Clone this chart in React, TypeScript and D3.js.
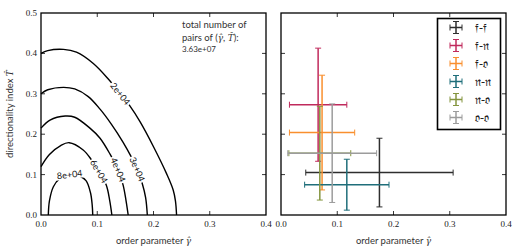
import React from "react";
import * as d3 from "d3";

// axes
const xTicks = [0, 0.1, 0.2, 0.3, 0.4];
const yTicks = [0, 0.1, 0.2, 0.3, 0.4, 0.5];

// contour lines, [gamma, T]
const levels = ["2e+04", "3e+04", "4e+04", "6e+04", "8e+04"];
const contour2e4: [number, number][] = [
  [0, 0.4], [0.012, 0.407], [0.04, 0.41], [0.063, 0.403], [0.093, 0.375], [0.12, 0.336],
  [0.14, 0.302], [0.158, 0.27], [0.176, 0.231], [0.2, 0.169], [0.223, 0.103],
  [0.235, 0.062], [0.239, 0.035], [0.241, 0],
];
const contour3e4: [number, number][] = [
  [0, 0.3], [0.012, 0.31], [0.04, 0.316], [0.06, 0.312], [0.084, 0.293], [0.105, 0.262],
  [0.125, 0.225], [0.146, 0.18], [0.16, 0.145], [0.171, 0.113], [0.18, 0.078],
  [0.186, 0.043], [0.189, 0],
];
const contour4e4: [number, number][] = [
  [0, 0.215], [0.016, 0.235], [0.043, 0.245], [0.06, 0.242], [0.087, 0.215],
  [0.105, 0.19], [0.123, 0.15], [0.137, 0.112], [0.146, 0.074], [0.151, 0.037], [0.155, 0],
];
const contour6e4: [number, number][] = [
  [0, 0.12], [0.015, 0.15], [0.035, 0.172], [0.05, 0.179], [0.075, 0.161],
  [0.09, 0.136], [0.103, 0.108], [0.116, 0.074], [0.122, 0.037], [0.126, 0],
];
const contour8e4: [number, number][] = [
  [0.013, 0], [0.015, 0.035], [0.022, 0.07], [0.033, 0.09], [0.05, 0.1], [0.068, 0.096],
  [0.08, 0.085], [0.088, 0.055], [0.091, 0.025], [0.092, 0],
];
const contours = [contour2e4, contour3e4, contour4e4, contour6e4, contour8e4];
const labelAt: [number, number][] = [
  [0.141, 0.3], [0.171, 0.113], [0.137, 0.112], [0.103, 0.108], [0.051, 0.1],
];
const totalPairs = "3.63e+07";

// error bars on the right panel
const groups = ["𝔣-𝔣", "𝔣-𝔫", "𝔣-𝔬", "𝔫-𝔫", "𝔫-𝔬", "𝔬-𝔬"];
const gammaMean = [0.175, 0.066, 0.073, 0.117, 0.069, 0.091];
const gammaErr = [0.131, 0.051, 0.058, 0.075, 0.055, 0.079];
const tMean = [0.105, 0.273, 0.204, 0.075, 0.153, 0.153];
const tErr = [0.085, 0.14, 0.142, 0.063, 0.116, 0.122];
const colors = ["#2e2e2e", "#c02a5c", "#f98f2e", "#1f6e7a", "#84953f", "#9c9c9c"];

const W = 520;
const H = 252;
const serif = "'Liberation Serif', 'Times New Roman', serif";
const sans = "Lato, 'Open Sans', sans-serif";
const math = "'DejaVu Serif', serif";

function Frame({ x, y, showY }: { x: d3.ScaleLinear<number, number>; y: d3.ScaleLinear<number, number>; showY: boolean }) {
  const [x0, x1] = x.range();
  const [y0, y1] = y.range();
  const tl = 4;
  return (
    <g>
      {xTicks.slice(1, -1).map((t) => (
        <g key={"xt" + t} stroke="#000" strokeWidth={0.8}>
          <line x1={x(t)} x2={x(t)} y1={y0} y2={y0 - tl} />
          <line x1={x(t)} x2={x(t)} y1={y1} y2={y1 + tl} />
        </g>
      ))}
      {yTicks.slice(1, -1).map((t) => (
        <g key={"yt" + t} stroke="#000" strokeWidth={0.8}>
          <line x1={x0} x2={x0 + tl} y1={y(t)} y2={y(t)} />
          <line x1={x1} x2={x1 - tl} y1={y(t)} y2={y(t)} />
        </g>
      ))}
      <rect x={x0} y={y1} width={x1 - x0} height={y0 - y1} fill="none" stroke="#000" strokeWidth={1.3} />
      {xTicks.map((t) => (
        <text key={"xl" + t} x={x(t)} y={y0 + 12} textAnchor="middle" fontFamily={serif} fontSize={9} fill="#222">
          {d3.format(".1f")(t)}
        </text>
      ))}
      {showY &&
        yTicks.map((t) => (
          <text key={"yl" + t} x={x0 - 4} y={y(t) + 3} textAnchor="end" fontFamily={serif} fontSize={9} fill="#222">
            {d3.format(".1f")(t)}
          </text>
        ))}
      <text x={(x0 + x1) / 2} y={244} textAnchor="middle" fontFamily={sans} fontSize={9.5} fill="#333">
        order parameter <tspan fontFamily={math} fontStyle="italic" fontSize={9}>γ̂</tspan>
      </text>
    </g>
  );
}

function labelAngle(pts: [number, number][], at: [number, number]) {
  let best = 0;
  let bd = Infinity;
  pts.forEach((p, i) => {
    const d = (p[0] - at[0]) ** 2 + ((p[1] - at[1]) * 0.8) ** 2;
    if (d < bd) {
      bd = d;
      best = i;
    }
  });
  const a = pts[Math.max(0, best - 1)];
  const b = pts[Math.min(pts.length - 1, best + 1)];
  return [a, b];
}

export default function App() {
  const xL = d3.scaleLinear().domain([0, 0.4]).range([41, 266]);
  const xR = d3.scaleLinear().domain([0, 0.4]).range([281, 506]);
  const y = d3.scaleLinear().domain([0, 0.5]).range([215, 13]);

  const line = d3
    .line<[number, number]>()
    .x((d) => xL(d[0]))
    .y((d) => y(d[1]))
    .curve(d3.curveCatmullRom.alpha(0.5));

  const cap = 3;

  return (
    <svg width={W} height={H} style={{ position: "absolute", left: 0, top: 0, background: "#fff" }}>
      <rect width={W} height={H} fill="#fff" />

      {/* left panel: contours */}
      <g fill="none" stroke="#000" strokeWidth={1.4}>
        {contours.map((c, i) => (
          <path key={levels[i]} d={line(c) || ""} />
        ))}
      </g>
      {levels.map((lv, i) => {
        const [a, b] = labelAngle(contours[i], labelAt[i]);
        let ang = (Math.atan2(y(b[1]) - y(a[1]), xL(b[0]) - xL(a[0])) * 180) / Math.PI;
        if (ang > 90) ang -= 180;
        if (ang < -90) ang += 180;
        const cx = xL(labelAt[i][0]);
        const cy = y(labelAt[i][1]);
        return (
          <g key={"lab" + lv} transform={`translate(${cx},${cy}) rotate(${ang})`}>
            <rect x={-14} y={-4.5} width={28} height={9} fill="#fff" />
            <text x={0} y={3.2} textAnchor="middle" fontFamily={sans} fontSize={9} fill="#111">
              {lv}
            </text>
          </g>
        );
      })}
      <g fontFamily={sans} fontSize={9.5} fill="#333">
        <text x={182} y={28}>total number of</text>
        <text x={182} y={40.5}>
          pairs of (<tspan fontFamily={math} fontStyle="italic" fontSize={9}>γ̂</tspan>,{" "}
          <tspan fontFamily={math} fontStyle="italic" fontSize={9}>T̂</tspan>):
        </text>
        <text x={182} y={52} fontSize={8}>{totalPairs}</text>
      </g>
      <Frame x={xL} y={y} showY={true} />
      <text
        transform={`translate(13,${y(0.25)}) rotate(-90)`}
        textAnchor="middle"
        fontFamily={sans}
        fontSize={9.5}
        fill="#333"
      >
        directionality index <tspan fontFamily={math} fontStyle="italic" fontSize={9}>T̂</tspan>
      </text>

      {/* right panel: error bars */}
      {groups.map((g, i) => {
        const cx = xR(gammaMean[i]);
        const cy = y(tMean[i]);
        const xa = xR(gammaMean[i] - gammaErr[i]);
        const xb = xR(gammaMean[i] + gammaErr[i]);
        const ya = y(tMean[i] - tErr[i]);
        const yb = y(tMean[i] + tErr[i]);
        return (
          <g key={g} stroke={colors[i]}>
            <line x1={xa} x2={xb} y1={cy} y2={cy} strokeWidth={1.5} />
            <line x1={cx} x2={cx} y1={ya} y2={yb} strokeWidth={1.5} />
            <line x1={xa} x2={xa} y1={cy - cap} y2={cy + cap} strokeWidth={1} />
            <line x1={xb} x2={xb} y1={cy - cap} y2={cy + cap} strokeWidth={1} />
            <line x1={cx - cap} x2={cx + cap} y1={ya} y2={ya} strokeWidth={1} />
            <line x1={cx - cap} x2={cx + cap} y1={yb} y2={yb} strokeWidth={1} />
          </g>
        );
      })}
      <Frame x={xR} y={y} showY={false} />

      {/* legend */}
      <rect x={437.5} y={18.5} width={63} height={111} fill="#fff" stroke="#000" strokeWidth={1.6} />
      {groups.map((g, i) => {
        const ly = 27.5 + i * 18;
        const lx = 456;
        return (
          <g key={"leg" + g}>
            <g stroke={colors[i]}>
              <line x1={lx - 6} x2={lx + 6} y1={ly} y2={ly} strokeWidth={1.5} />
              <line x1={lx} x2={lx} y1={ly - 6} y2={ly + 6} strokeWidth={1.5} />
              <line x1={lx - 6} x2={lx - 6} y1={ly - cap} y2={ly + cap} strokeWidth={1} />
              <line x1={lx + 6} x2={lx + 6} y1={ly - cap} y2={ly + cap} strokeWidth={1} />
              <line x1={lx - cap} x2={lx + cap} y1={ly - 6} y2={ly - 6} strokeWidth={1} />
              <line x1={lx - cap} x2={lx + cap} y1={ly + 6} y2={ly + 6} strokeWidth={1} />
            </g>
            <text x={475} y={ly + 4} fontFamily={math} fontSize={12} fill="#222">
              {g}
            </text>
          </g>
        );
      })}
    </svg>
  );
}
